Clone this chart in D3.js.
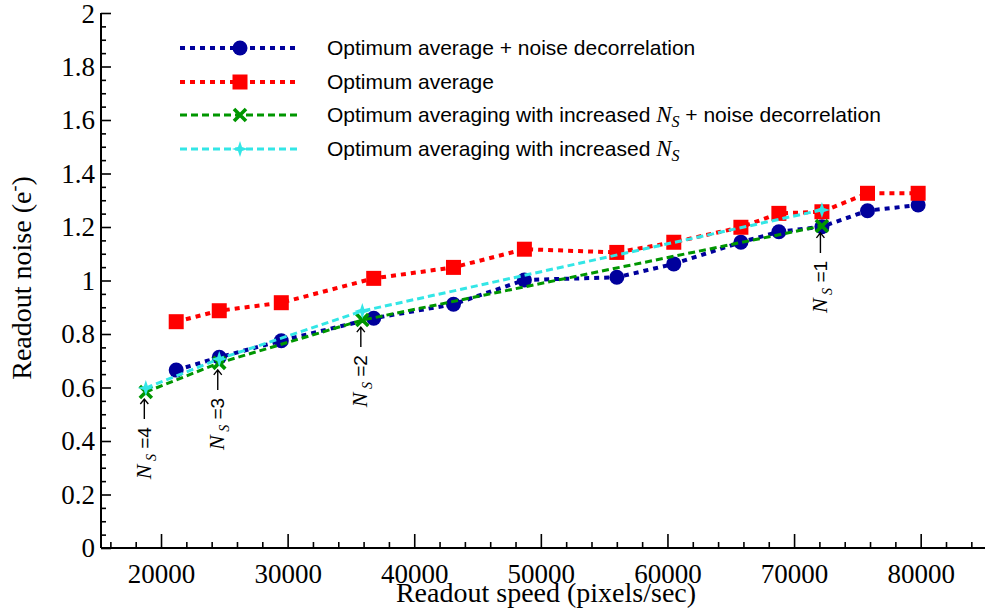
<!DOCTYPE html>
<html>
<head>
<meta charset="utf-8">
<script src="https://cdn.jsdelivr.net/npm/d3@7"></script>
<style>
  body { margin: 0; background: #fff; }
  svg { display: block; }
</style>
</head>
<body>
<svg id="chart" width="985" height="611"></svg>
<script>
// ---- data ----
const speedsMain = [21200, 24600, 29500, 36800, 43100, 48700, 56000, 60500, 65800, 68800, 72200, 75800, 79800];
const noiseDecorr = [0.665, 0.713, 0.775, 0.859, 0.911, 1.002, 1.012, 1.062, 1.143, 1.182, 1.201, 1.261, 1.282];
const noiseAvg = [0.846, 0.887, 0.917, 1.008, 1.049, 1.117, 1.105, 1.143, 1.199, 1.251, 1.257, 1.326, 1.326];
const speedsNs = [18800, 24600, 35900, 72200];
const noiseNsDecorr = [0.583, 0.692, 0.852, 1.204];
const noiseNs = [0.598, 0.707, 0.886, 1.264];
const nsLabels = ["4", "3", "2", "1"];
const xTickValues = [20000, 30000, 40000, 50000, 60000, 70000, 80000];
const yTickValues = [0, 0.2, 0.4, 0.6, 0.8, 1, 1.2, 1.4, 1.6, 1.8, 2];
const legendLabels = [
  ["Optimum average + noise decorrelation"],
  ["Optimum average"],
  ["Optimum averaging with increased ", "N", "S", " + noise decorrelation"],
  ["Optimum averaging with increased ", "N", "S", ""]
];

const svg = d3.select("#chart");
const x = d3.scaleLinear().domain([15260, 85080]).range([101, 985]);
const y = d3.scaleLinear().domain([0, 2]).range([548, 13]);

const serif = "'Liberation Serif', 'Times New Roman', serif";
const sans = "'Liberation Sans', Arial, sans-serif";

// ---- axes ----
const xMinor = d3.range(16000, 85001, 2000).filter(v => v % 10000 !== 0);
const yMinor = d3.range(0, 2.0001, 0.05).map(v => +v.toFixed(2)).filter(v => Math.abs(v * 5 - Math.round(v * 5)) > 1e-6);

const xAxis = svg.append("g").attr("transform", `translate(0,${y(0)})`)
  .call(d3.axisBottom(x).tickValues(xTickValues).tickSize(-14).tickPadding(16).tickFormat(d3.format("d")));
svg.append("g").attr("transform", `translate(0,${y(0)})`)
  .call(d3.axisBottom(x).tickValues(xMinor).tickSize(-6).tickFormat(""))
  .select(".domain").remove();
const yAxis = svg.append("g").attr("transform", `translate(${x.range()[0]},0)`)
  .call(d3.axisLeft(y).tickValues(yTickValues).tickSize(-10).tickPadding(6).tickFormat(d => d3.format("")(d)));
svg.append("g").attr("transform", `translate(${x.range()[0]},0)`)
  .call(d3.axisLeft(y).tickValues(yMinor).tickSize(-5).tickFormat(""))
  .select(".domain").remove();

svg.selectAll(".domain").attr("stroke", "#000").attr("stroke-width", 2);
svg.selectAll(".tick line").attr("stroke", "#000").attr("stroke-width", 1.6);
xAxis.attr("font-family", serif);
yAxis.attr("font-family", serif);
svg.selectAll(".tick text").style("font-family", serif).style("font-size", "27px").attr("fill", "#000");
xAxis.selectAll(".tick text").attr("dy", "0.71em");
yAxis.select(".tick:last-of-type text").attr("dy", "0.36em");
yAxis.selectAll(".domain").attr("d", `M0,${y(0)}V${y(2)}`);
xAxis.select(".domain").attr("d", `M${x.range()[0]},0H${x.range()[1]}`);

svg.append("text").attr("x", 546).attr("y", 602).attr("text-anchor", "middle")
  .style("font-family", serif).style("font-size", "28px").text("Readout speed (pixels/sec)");
const yt = svg.append("text").attr("transform", "translate(31,278) rotate(-90)").attr("text-anchor", "middle")
  .style("font-family", serif).style("font-size", "28px");
yt.append("tspan").text("Readout noise (e");
yt.append("tspan").attr("dy", -11).style("font-size", "18px").text("-");
yt.append("tspan").attr("dy", 11).text(")");

// ---- markers ----
function drawMarker(g, type, color) {
  if (type === "circle") g.append("circle").attr("r", 7.5).attr("fill", color);
  else if (type === "square") g.append("rect").attr("x", -7.5).attr("y", -7.5).attr("width", 15).attr("height", 15).attr("fill", color);
  else if (type === "x") g.append("path").attr("d", "M-6,-6L6,6M-6,6L6,-6").attr("stroke", color).attr("stroke-width", 3.6).attr("fill", "none");
  else if (type === "star") g.append("path").attr("d", "M0,-8L2,-2L8,0L2,2L0,8L-2,2L-8,0L-2,-2Z").attr("fill", color);
}

const series = [
  { xs: speedsMain, ys: noiseDecorr, color: "#00009c", marker: "circle", width: 4, dash: "5,5" },
  { xs: speedsMain, ys: noiseAvg, color: "#ff0000", marker: "square", width: 4, dash: "5,5" },
  { xs: speedsNs, ys: noiseNsDecorr, color: "#009600", marker: "x", width: 3, dash: "7,4" },
  { xs: speedsNs, ys: noiseNs, color: "#33e6e6", marker: "star", width: 3, dash: "7,4" }
];

const line = d3.line().x(d => x(d[0])).y(d => y(d[1]));
series.forEach(s => {
  const pts = s.xs.map((v, i) => [v, s.ys[i]]);
  svg.append("path").attr("d", line(pts)).attr("fill", "none").attr("stroke", s.color)
    .attr("stroke-width", s.width).attr("stroke-dasharray", s.dash);
  pts.forEach(p => {
    const g = svg.append("g").attr("transform", `translate(${x(p[0])},${y(p[1])})`);
    drawMarker(g, s.marker, s.color);
  });
});

// ---- legend ----
const legendY = [48, 82, 115, 149];
series.forEach((s, i) => {
  const ly = legendY[i];
  svg.append("line").attr("x1", 180).attr("x2", 298).attr("y1", ly).attr("y2", ly)
    .attr("stroke", s.color).attr("stroke-width", s.width).attr("stroke-dasharray", s.dash);
  const g = svg.append("g").attr("transform", `translate(240,${ly})`);
  drawMarker(g, s.marker, s.color);
  const t = svg.append("text").attr("x", 327).attr("y", ly + 7).style("font-family", sans).style("font-size", "21px").attr("fill", "#000");
  const parts = legendLabels[i];
  t.append("tspan").text(parts[0]);
  if (parts.length > 1) {
    t.append("tspan").style("font-family", serif).style("font-style", "italic").style("font-size", "23px").text(parts[1]);
    t.append("tspan").style("font-family", serif).style("font-style", "italic").style("font-size", "16px").attr("dy", 5).text(parts[2]);
    t.append("tspan").attr("dy", -5).text(parts[3]);
  }
});

// ---- N_S annotations ----
speedsNs.forEach((v, i) => {
  const px = x(v) + 5, tipY = y(noiseNsDecorr[i]) + 7;
  const ax = px - 6.5;
  // arrow pointing up to the point
  svg.append("path")
    .attr("d", `M${ax},${tipY + 20}V${tipY}M${ax - 4},${tipY + 5}L${ax},${tipY}L${ax + 4},${tipY + 5}`)
    .attr("fill", "none").attr("stroke", "#000").attr("stroke-width", 1.4);
  const t = svg.append("text").attr("transform", `translate(${px},${tipY + 28}) rotate(-90)`)
    .attr("text-anchor", "end").style("font-family", sans).style("font-size", "19px").attr("fill", "#000");
  t.append("tspan").style("font-family", serif).style("font-style", "italic").style("font-size", "22px").text("N");
  t.append("tspan").style("font-family", serif).style("font-style", "italic").style("font-size", "14px").attr("dy", 5).text(" S");
  t.append("tspan").attr("dy", -5).text(" =" + nsLabels[i]);
});
</script>
</body>
</html>
